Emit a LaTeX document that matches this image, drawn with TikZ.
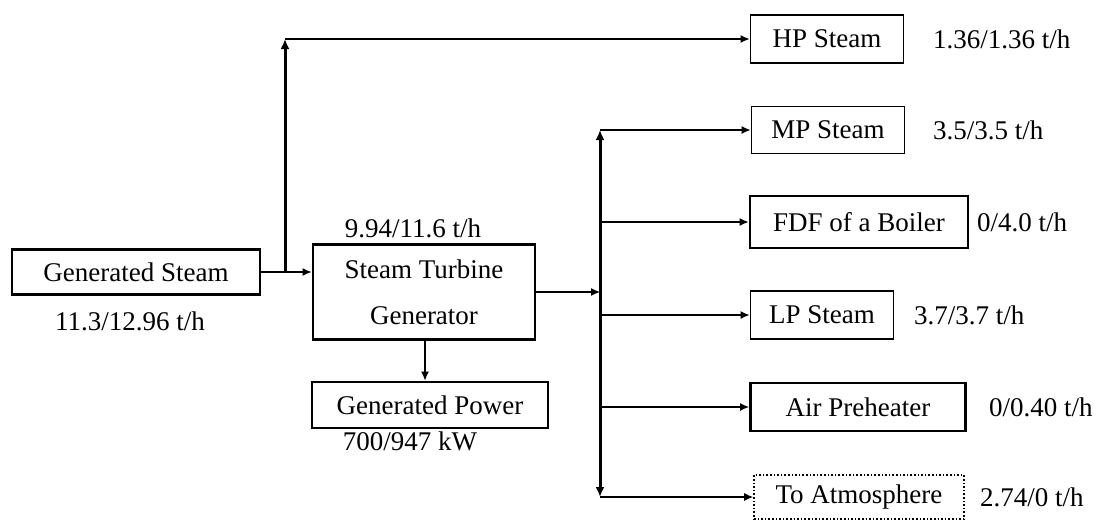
\documentclass[tikz,border=0pt]{standalone}
\usepackage{fontspec}
\setmainfont{Liberation Serif}
\usetikzlibrary{arrows.meta}
\begin{document}
\begin{tikzpicture}[x=1pt,y=-1pt,
  txt/.style={font=\fontsize{27}{30}\selectfont, inner sep=0pt},
  box/.style={txt, draw, line width=2.8pt, minimum width=#1},
  thinbox/.style={txt, draw, line width=1.8pt, minimum width=#1},
  dotbox/.style={txt, draw, dotted, line width=1.6pt, minimum width=#1},
  arr/.style={line width=1.3pt, -{Latex[length=9pt,width=8pt]}},
  busline/.style={line width=3pt, -{Latex[length=10pt,width=9pt]}}
]
\useasboundingbox (0,0) rectangle (1105,520);
% left part
\node[box=248, minimum height=45] (gs) at (136,272) {Generated Steam};
\node[txt] (gsl) at (130,321) {11.3/12.96 t/h};
\node[box=222, minimum height=95, align=center, font=\fontsize{27}{46}\selectfont] (stg) at (424,292) {Steam Turbine\\Generator};
\node[txt] (stgl) at (413,228) {9.94/11.6 t/h};
\node[box=236, minimum height=46] (gp) at (430,405) {Generated Power};
\node[txt] (gpl) at (410,441) {700/947 kW};
% right boxes
\node[thinbox=153, minimum height=48] (hp) at (827,39) {HP Steam};
\node[txt, anchor=west] (hpl) at (933,39) {1.36/1.36 t/h};
\node[thinbox=153, minimum height=47] (mp) at (828,130) {MP Steam};
\node[txt, anchor=west] (mpl) at (933,130) {3.5/3.5 t/h};
\node[box=218, minimum height=52] (fdf) at (859,222) {FDF of a Boiler};
\node[txt, anchor=west] (fdfl) at (977,222) {0/4.0 t/h};
\node[thinbox=143, minimum height=48] (lp) at (822,315) {LP Steam};
\node[txt, anchor=west] (lpl) at (914,315) {3.7/3.7 t/h};
\node[box=215, minimum height=48] (air) at (858,407) {Air Preheater};
\node[txt, anchor=west] (airl) at (989,407) {0/0.40 t/h};
\node[dotbox=210, minimum height=44] (atm) at (859,497) {To Atmosphere};
\node[txt, anchor=west] (atml) at (980,497) {2.74/0 t/h};
% connectors
\coordinate (j1) at (285,272);
\coordinate (j1top) at (285,39);
\draw[arr] (gs.east) -- (stg.west |- gs.east);
\draw[busline] (j1) -- (j1top);
\draw[arr] (j1top) -- (hp.west);
\draw[arr] (stg.south -| gp.north) ++(-5,0) coordinate (gpa) -- (gpa |- gp.north);
\coordinate (b) at (600,292);
\coordinate (btop) at (600,130);
\coordinate (bbot) at (600,497);
\draw[arr] (stg.east) -- (b);
\draw[busline] (b) -- (btop);
\draw[busline] (b) -- (bbot);
\draw[arr] (btop) -- (mp.west);
\draw[arr] (b |- fdf.west) -- (fdf.west);
\draw[arr] (b |- lp.west) -- (lp.west);
\draw[arr] (b |- air.west) -- (air.west);
\draw[arr] (bbot) -- (atm.west);
\end{tikzpicture}
\end{document}
